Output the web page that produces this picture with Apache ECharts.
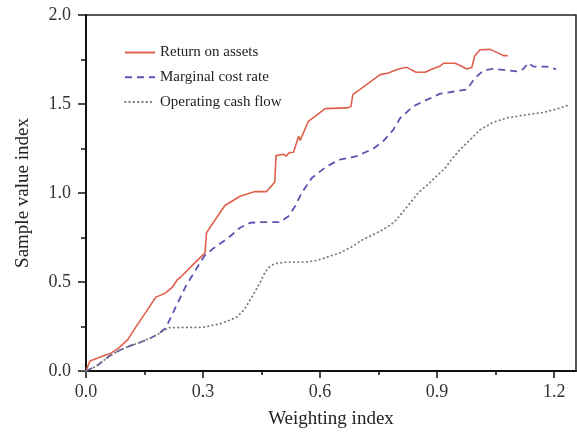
<!DOCTYPE html>
<html>
<head>
<meta charset="utf-8">
<script src="https://cdn.jsdelivr.net/npm/echarts@6/dist/echarts.min.js"></script>
<style>html,body{margin:0;padding:0;background:#fff}#c{width:577px;height:434px}</style>
</head>
<body>
<div id="c"></div>
<script>
const seriesNames = ['Return on assets', 'Marginal cost rate', 'Operating cash flow'];
const xTicks = [0.0, 0.3, 0.6, 0.9, 1.2];
const yTicks = [0.0, 0.5, 1.0, 1.5, 2.0];

const roaX = [0, 0.01, 0.027, 0.045, 0.064, 0.085, 0.107, 0.128, 0.154, 0.179, 0.203, 0.22, 0.235, 0.241, 0.275, 0.305, 0.309, 0.326, 0.356, 0.395, 0.433, 0.463, 0.484, 0.487, 0.506, 0.513, 0.521, 0.532, 0.545, 0.549, 0.570, 0.587, 0.613, 0.668, 0.679, 0.684, 0.711, 0.754, 0.775, 0.801, 0.822, 0.846, 0.869, 0.891, 0.908, 0.917, 0.946, 0.963, 0.976, 0.989, 0.996, 1.010, 1.036, 1.053, 1.070, 1.081];
const roaY = [0, 0.056, 0.070, 0.085, 0.10, 0.131, 0.176, 0.248, 0.332, 0.415, 0.437, 0.468, 0.515, 0.524, 0.599, 0.664, 0.777, 0.833, 0.930, 0.982, 1.008, 1.008, 1.061, 1.21, 1.218, 1.207, 1.227, 1.229, 1.319, 1.296, 1.403, 1.431, 1.474, 1.478, 1.485, 1.553, 1.596, 1.665, 1.674, 1.697, 1.706, 1.678, 1.678, 1.699, 1.714, 1.729, 1.729, 1.712, 1.697, 1.705, 1.768, 1.805, 1.807, 1.790, 1.772, 1.772];

const mcrX = [0, 0.027, 0.060, 0.085, 0.111, 0.138, 0.167, 0.184, 0.205, 0.215, 0.231, 0.256, 0.282, 0.303, 0.327, 0.363, 0.395, 0.421, 0.45, 0.497, 0.519, 0.536, 0.553, 0.579, 0.617, 0.651, 0.694, 0.737, 0.762, 0.788, 0.805, 0.839, 0.865, 0.908, 0.976, 0.997, 1.019, 1.044, 1.109, 1.121, 1.134, 1.147, 1.181, 1.205];
const mcrY = [0, 0.028, 0.084, 0.115, 0.140, 0.160, 0.187, 0.206, 0.243, 0.29, 0.365, 0.477, 0.571, 0.645, 0.690, 0.745, 0.805, 0.833, 0.836, 0.836, 0.870, 0.926, 1.001, 1.085, 1.150, 1.188, 1.207, 1.250, 1.291, 1.356, 1.42, 1.487, 1.515, 1.558, 1.581, 1.646, 1.689, 1.697, 1.683, 1.697, 1.731, 1.710, 1.710, 1.695];

const ocfX = [0, 0.027, 0.060, 0.085, 0.111, 0.138, 0.167, 0.184, 0.211, 0.25, 0.299, 0.342, 0.385, 0.406, 0.429, 0.446, 0.459, 0.472, 0.485, 0.515, 0.562, 0.592, 0.621, 0.651, 0.681, 0.707, 0.737, 0.762, 0.790, 0.809, 0.831, 0.852, 0.874, 0.897, 0.921, 0.938, 0.959, 0.983, 1.010, 1.044, 1.079, 1.130, 1.173, 1.207, 1.233];
const ocfY = [0, 0.028, 0.084, 0.115, 0.140, 0.160, 0.187, 0.206, 0.243, 0.245, 0.245, 0.264, 0.300, 0.346, 0.43, 0.496, 0.556, 0.589, 0.604, 0.612, 0.612, 0.621, 0.642, 0.664, 0.698, 0.735, 0.767, 0.795, 0.836, 0.885, 0.945, 1.001, 1.044, 1.091, 1.141, 1.192, 1.244, 1.295, 1.356, 1.397, 1.422, 1.440, 1.453, 1.472, 1.491];

const zip = (xs, ys) => xs.map((x, i) => [x, ys[i]]);
const FONT = '"Liberation Serif", "Times New Roman", serif';
const XMAX = 1.256;

const chart = echarts.init(document.getElementById('c'), null, {renderer: 'canvas'});
chart.setOption({
  animation: false,
  backgroundColor: '#fff',
  textStyle: {fontFamily: FONT},
  grid: {left: 86, right: 1, top: 15, bottom: 62, show: true, borderColor: '#222', borderWidth: 1.5, backgroundColor: 'transparent'},
  legend: {
    orient: 'vertical', left: 119, top: 40, itemWidth: 30, itemHeight: 14, itemGap: 9.7,
    itemStyle: {opacity: 0},
    textStyle: {fontFamily: FONT, fontSize: 15, color: '#222'},
    data: seriesNames
  },
  xAxis: [{
    type: 'value', min: 0, max: XMAX, interval: 0.3,
    name: 'Weighting index', nameLocation: 'middle', nameGap: 39,
    nameTextStyle: {fontFamily: FONT, fontSize: 19, color: '#222'},
    axisLine: {show: true, lineStyle: {color: '#111', width: 2}},
    axisTick: {show: true, length: 7, lineStyle: {color: '#111', width: 1.5},
      customValues: xTicks},
    axisLabel: {fontFamily: FONT, fontSize: 18, color: '#333', margin: 12,
      customValues: xTicks,
      formatter: v => v.toFixed(1)},
    splitLine: {show: false}
  }, {
    type: 'value', min: 0, max: XMAX, interval: 0.15, position: 'bottom',
    axisLine: {show: false},
    axisTick: {show: true, length: 4, lineStyle: {color: '#111', width: 1.5},
      customValues: [0.15, 0.45, 0.75, 1.05]},
    axisLabel: {show: false},
    splitLine: {show: false}
  }],
  yAxis: {
    type: 'value', min: 0, max: 2, interval: 0.5,
    name: 'Sample value index', nameLocation: 'middle', nameGap: 53, nameRotate: 90,
    nameTextStyle: {fontFamily: FONT, fontSize: 19, color: '#222'},
    axisLine: {show: true, lineStyle: {color: '#111', width: 2}},
    axisTick: {show: true, length: 8, lineStyle: {color: '#111', width: 1.5}},
    minorTick: {show: true, splitNumber: 2, length: 5, lineStyle: {color: '#111', width: 1.5}},
    axisLabel: {fontFamily: FONT, fontSize: 18, color: '#333', margin: 15, formatter: v => v.toFixed(1)},
    splitLine: {show: false}, minorSplitLine: {show: false}
  },
  series: [
    {name: seriesNames[0], type: 'line', data: zip(roaX, roaY), showSymbol: false, symbol: 'none',
     lineStyle: {color: '#e0604c', width: 1.6}, itemStyle: {color: '#e0604c'}},
    {name: seriesNames[1], type: 'line', data: zip(mcrX, mcrY), showSymbol: false, symbol: 'none',
     lineStyle: {color: '#5a55b0', width: 1.8, type: [7, 5]}, itemStyle: {color: '#5a55b0'}},
    {name: seriesNames[2], type: 'line', data: zip(ocfX, ocfY), showSymbol: false, symbol: 'none',
     lineStyle: {color: '#7a7a7a', width: 1.8, type: [0.5, 3.8], cap: 'round'}, itemStyle: {color: '#7a7a7a'}}
  ]
});
</script>
</body>
</html>
